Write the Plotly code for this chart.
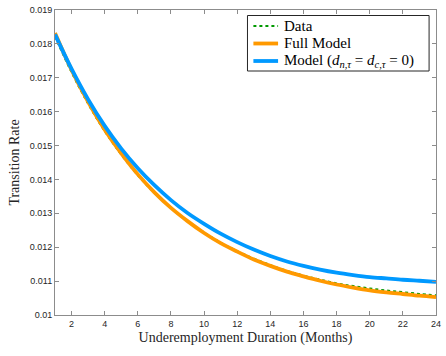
import plotly.graph_objects as go

months = list(range(1, 25))

data_rate = [0.01822, 0.01717, 0.01624, 0.01543, 0.01474, 0.01413, 0.01361, 0.01316, 0.01277,
             0.01243, 0.01213, 0.01188, 0.01166, 0.01147, 0.01130, 0.01116, 0.01104, 0.01093,
             0.01085, 0.01078, 0.01072, 0.01067, 0.01062, 0.01058]

full_model = [0.01832, 0.01723, 0.01629, 0.01547, 0.01477, 0.01415, 0.01362, 0.01316, 0.01277,
              0.01242, 0.01212, 0.01187, 0.01164, 0.01145, 0.01128, 0.01114, 0.01101, 0.01090,
              0.01081, 0.01073, 0.01067, 0.01062, 0.01057, 0.01053]

model_zero = [0.01828, 0.01726, 0.01636, 0.01558, 0.01491, 0.01433, 0.01383, 0.01339, 0.01301,
              0.01269, 0.01240, 0.01215, 0.01193, 0.01174, 0.01158, 0.01145, 0.01134, 0.01125,
              0.01118, 0.01112, 0.01108, 0.01104, 0.01101, 0.01098]

series_names = ["Data", "Full Model",
                "Model (<i>d</i><sub><i>n,τ</i></sub> = <i>d</i><sub><i>c,τ</i></sub> = 0)"]
series_colors = ["#009900", "#FF9900", "#0099FF"]

x_ticks = list(range(2, 25, 2))
y_ticks = [0.010, 0.011, 0.012, 0.013, 0.014, 0.015, 0.016, 0.017, 0.018, 0.019]
y_labels = ["0.01", "0.011", "0.012", "0.013", "0.014", "0.015", "0.016", "0.017", "0.018", "0.019"]

serif = "Liberation Serif, Times New Roman, serif"

W, H = 446, 356
ML, MR, MT, MB = 55, 5, 10, 41
PW, PH = W - ML - MR, H - MT - MB


def px_x(p):
    return (p - ML) / PW


def px_y(p):
    return 1 - (p - MT) / PH


styles = [dict(width=2.2, dash="dot"), dict(width=3.8, dash="solid"), dict(width=3.8, dash="solid")]

fig = go.Figure()
for vals, name, color, st in zip([data_rate, full_model, model_zero], series_names, series_colors, styles):
    fig.add_trace(go.Scatter(x=months, y=vals, mode="lines", name=name, showlegend=False,
                             line=dict(color=color, width=st["width"], dash=st["dash"], shape="spline")))

# legend (drawn manually to match the reference box layout)
box = dict(left=250, right=434, top=15.5, bottom=71)
rows = [26, 43.5, 61]
shapes = [dict(type="rect", xref="paper", yref="paper",
               x0=px_x(box["left"]), x1=px_x(box["right"]),
               y0=px_y(box["bottom"]), y1=px_y(box["top"]),
               line=dict(color="#262626", width=1), fillcolor="white", layer="above")]
annotations = []
for name, color, st, ry in zip(series_names, series_colors, styles, rows):
    shapes.append(dict(type="line", xref="paper", yref="paper",
                       x0=px_x(256), x1=px_x(281), y0=px_y(ry), y1=px_y(ry),
                       line=dict(color=color, width=st["width"], dash=st["dash"]), layer="above"))
    annotations.append(dict(text=name, xref="paper", yref="paper", x=px_x(285), y=px_y(ry),
                            xanchor="left", yanchor="middle", showarrow=False,
                            font=dict(family=serif, size=15, color="#000000")))

axis_common = dict(showline=True, linecolor="#8c8c8c", linewidth=1, mirror="ticks",
                   ticks="inside", ticklen=4, tickcolor="#8c8c8c", showgrid=False, zeroline=False,
                   ticklabeloverflow="allow",
                   tickfont=dict(family="Liberation Sans, Arial", size=9, color="#262626"))

fig.update_layout(
    width=W, height=H,
    margin=dict(l=ML, r=MR, t=MT, b=MB),
    paper_bgcolor="white", plot_bgcolor="white",
    showlegend=False,
    shapes=shapes,
    annotations=annotations,
    xaxis=dict(range=[1, 24], tickvals=x_ticks,
               title=dict(text="Underemployment Duration (Months)", standoff=4,
                          font=dict(family=serif, size=14, color="#262626")),
               **axis_common),
    yaxis=dict(range=[0.010, 0.019], tickvals=y_ticks, ticktext=y_labels,
               title=dict(text="Transition Rate", standoff=6,
                          font=dict(family=serif, size=14, color="#262626")),
               **axis_common),
)

fig.write_html("out.html")
